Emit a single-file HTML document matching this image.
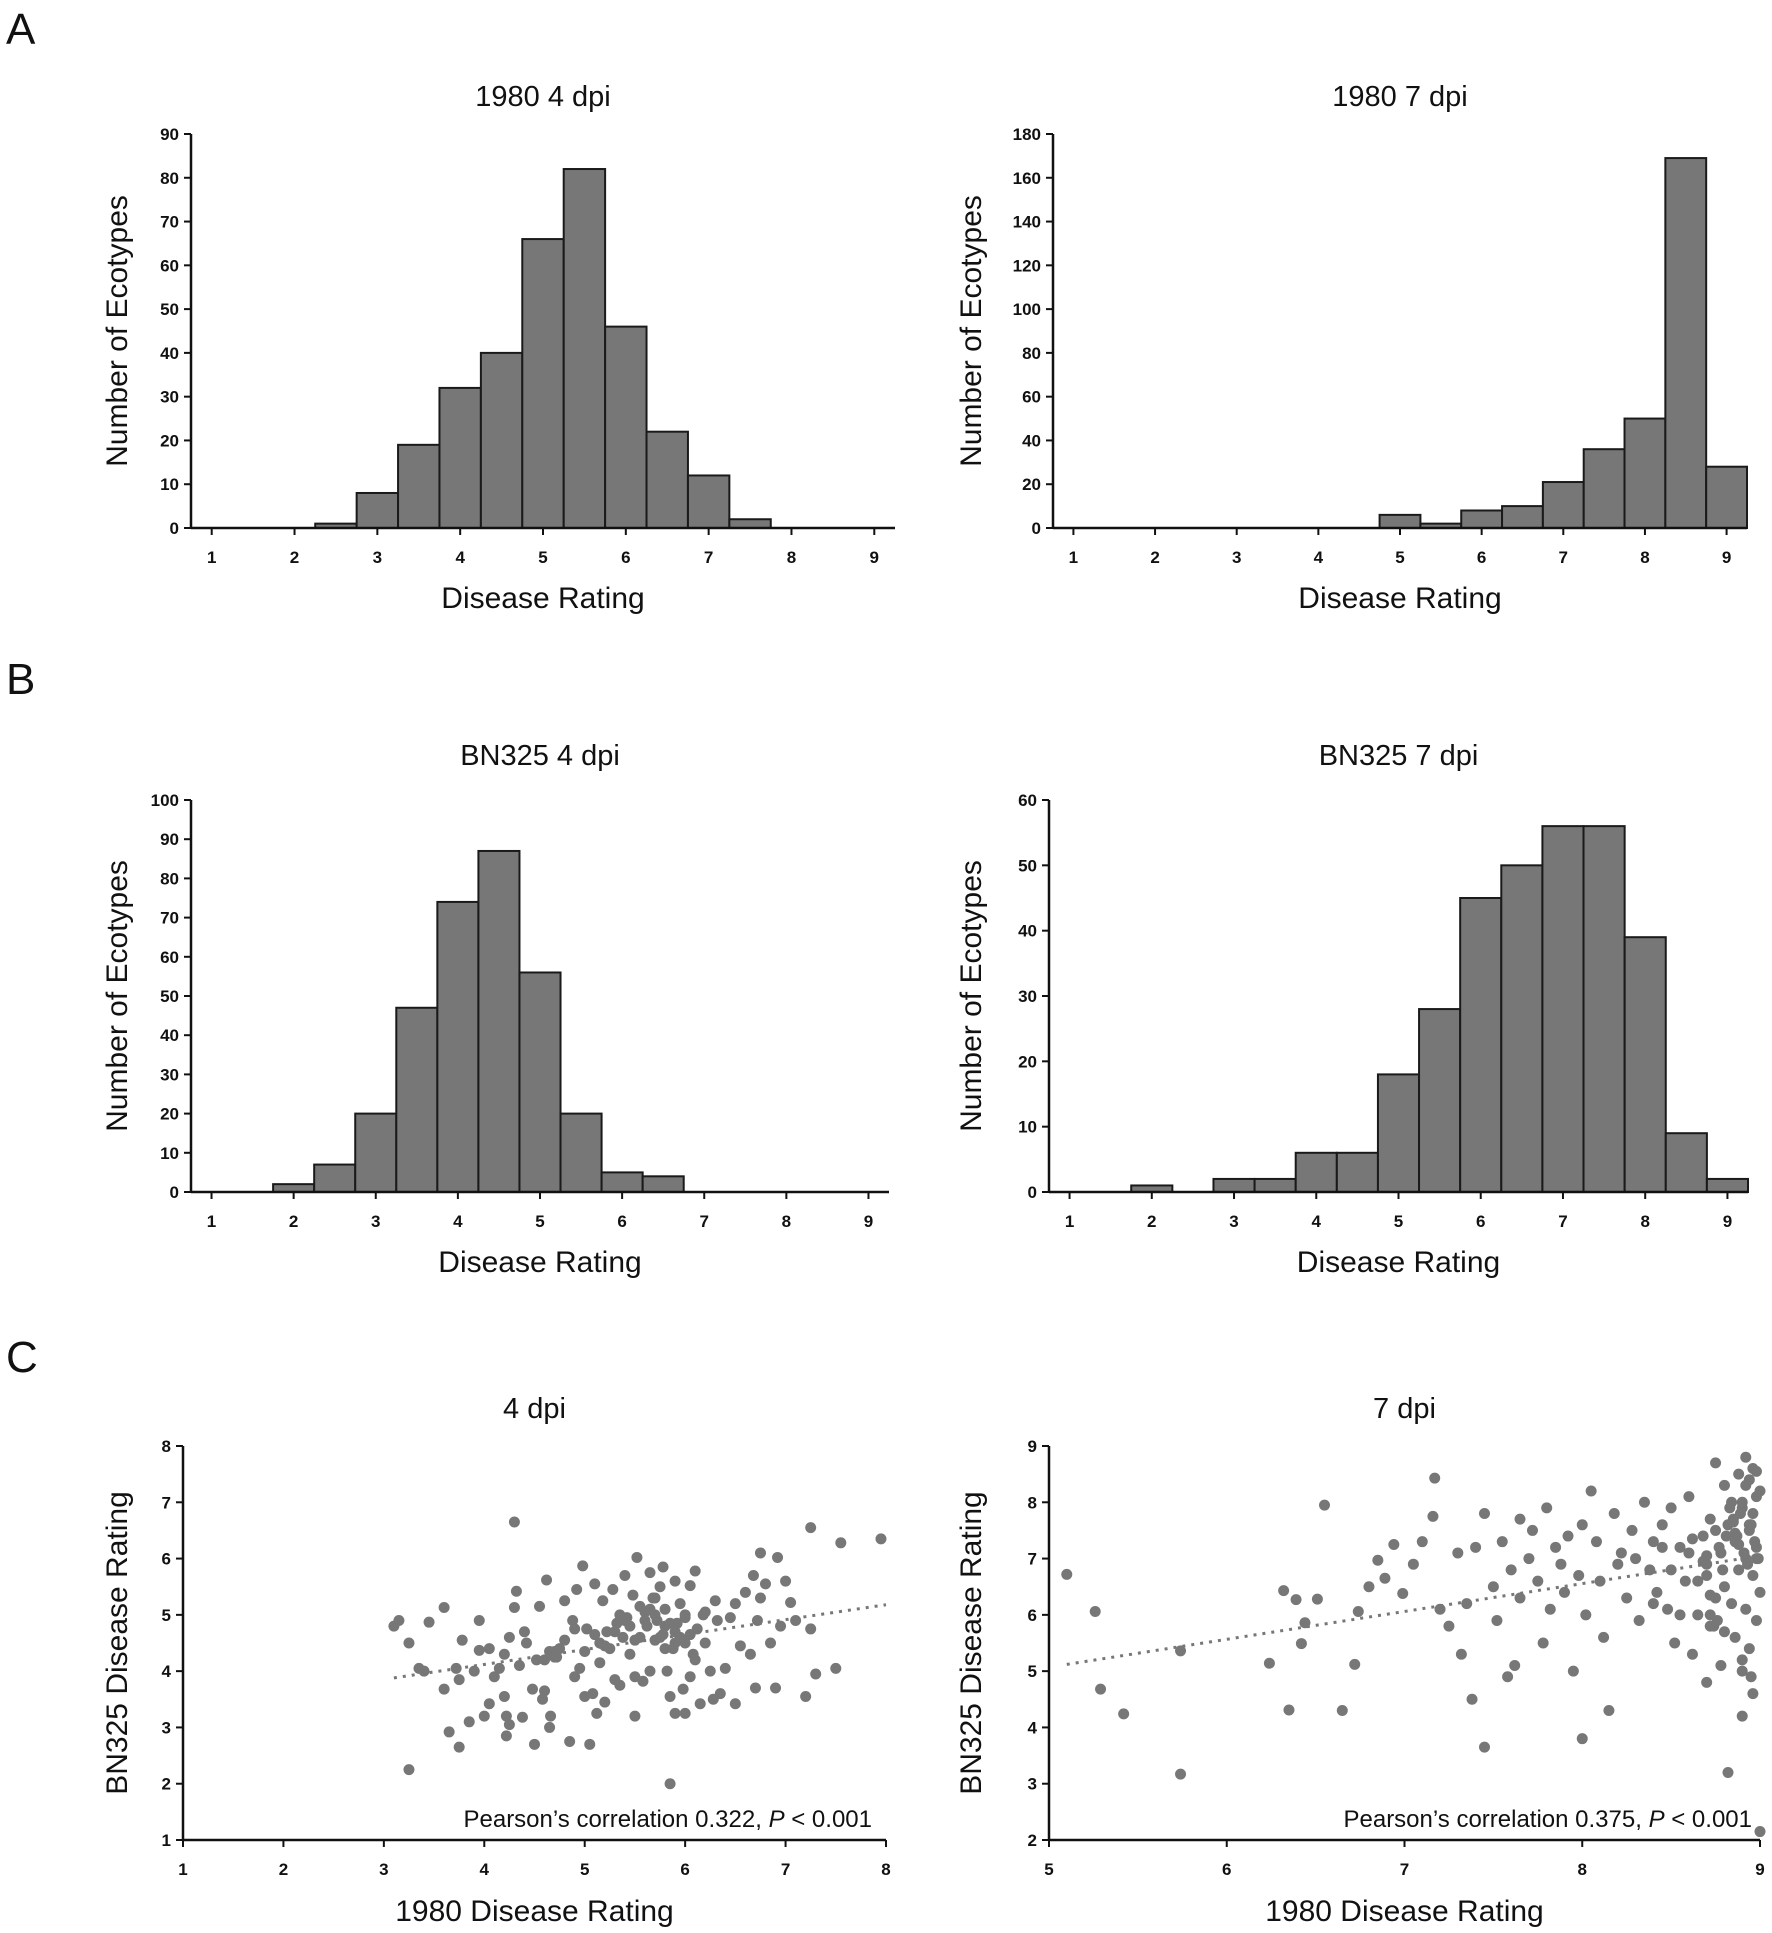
<!DOCTYPE html>
<html><head><meta charset="utf-8">
<style>
html,body{margin:0;padding:0;background:#fff;}
svg{display:block;}
text{font-family:"Liberation Sans",sans-serif;fill:#111;}
.tick{font-size:17px;font-weight:bold;}
.title{font-size:29px;}
.axl{font-size:30px;}
.letter{font-size:44px;}
</style></head>
<body>
<svg id="fig" width="1772" height="1933" viewBox="0 0 1772 1933" xmlns="http://www.w3.org/2000/svg">
<text class="letter" x="6" y="44">A</text>
<text class="letter" x="6" y="694">B</text>
<text class="letter" x="6" y="1372">C</text>
</svg>
<script>
const binCenters=[1,1.5,2,2.5,3,3.5,4,4.5,5,5.5,6,6.5,7,7.5,8,8.5,9];
const a4Counts=[0,0,0,1,8,19,32,40,66,82,46,22,12,2,0,0,0];
const a7Counts=[0,0,0,0,0,0,0,0,6,2,8,10,21,36,50,169,28];
const b4Counts=[0,0,2,7,20,47,74,87,56,20,5,4,0,0,0,0,0];
const b7Counts=[0,0,1,0,2,2,6,6,18,28,45,50,56,56,39,9,2];
const a4Ticks=[0,10,20,30,40,50,60,70,80,90];
const a7Ticks=[0,20,40,60,80,100,120,140,160,180];
const b4Ticks=[0,10,20,30,40,50,60,70,80,90,100];
const b7Ticks=[0,10,20,30,40,50,60];
const ratingTicks=[1,2,3,4,5,6,7,8,9];
const c4X=[3.1,3.15,3.25,3.25,3.45,3.35,3.4,3.6,3.6,3.65,3.75,3.72,3.75,3.78,3.85,3.9,3.95,3.95,4.0,4.05,4.05,4.1,4.15,4.2,4.2,4.22,4.22,4.25,4.25,4.3,4.3,4.32,4.35,4.38,4.4,4.42,4.48,4.5,4.52,4.55,4.58,4.6,4.62,4.65,4.66,4.68,4.7,4.72,4.75,4.8,4.85,4.88,4.9,4.92,4.95,4.98,5.0,5.02,5.05,5.08,5.1,5.12,5.15,5.15,5.18,5.2,5.22,5.25,5.28,5.3,5.32,5.35,5.38,5.4,5.42,5.45,5.48,5.5,5.5,5.52,5.55,5.58,5.6,5.62,5.65,5.65,5.68,5.7,5.72,5.75,5.78,5.78,5.8,5.82,5.85,5.85,5.88,5.9,5.9,5.92,5.95,5.98,6.0,6.0,6.05,6.05,6.08,6.1,6.12,6.15,6.18,6.2,6.25,6.28,6.3,6.32,6.35,6.4,6.45,6.5,6.5,6.55,6.6,6.65,6.68,6.7,6.72,6.75,6.75,6.8,6.85,6.9,6.92,6.95,7.0,7.05,7.1,7.2,7.25,7.25,7.3,7.5,7.55,7.95,5.6,5.7,5.8,5.9,6.0,5.65,5.75,5.85,5.95,6.05,5.3,5.4,5.5,5.2,4.6,4.65,4.7,5.7,5.8,5.9,6.1,6.2,5.35,5.45,5.55,5.0,5.1,4.8,4.9,6.0];
const c4Y=[4.8,4.9,4.5,2.25,4.87,4.05,4.0,5.13,3.68,2.92,2.65,4.05,3.85,4.55,3.1,4.0,4.37,4.9,3.2,3.42,4.4,3.9,4.05,3.55,4.3,3.2,2.85,3.05,4.6,6.65,5.13,5.42,4.1,3.18,4.7,4.5,3.68,2.7,4.2,5.15,3.5,3.65,5.62,3.0,3.2,4.3,4.35,4.25,4.4,5.25,2.75,4.9,3.9,5.45,4.05,5.87,3.55,4.75,2.7,3.6,5.55,3.25,4.5,4.15,5.25,3.45,4.7,4.4,5.45,3.85,4.85,3.75,4.6,5.7,4.95,4.3,5.35,3.9,3.2,6.02,4.6,3.82,5.05,4.8,5.75,4.0,5.3,4.55,4.9,5.5,5.85,4.65,5.1,4.0,3.55,2.0,4.4,5.6,3.25,4.85,4.6,3.68,5.0,3.25,5.52,3.9,4.3,5.78,4.75,3.42,5.0,4.5,4.0,3.5,5.25,4.9,3.6,4.05,4.95,3.42,5.2,4.45,5.4,4.3,5.7,3.7,4.9,6.1,5.3,5.55,4.5,3.7,6.02,4.8,5.6,5.22,4.9,3.55,6.55,4.75,3.95,4.05,6.28,6.35,4.9,5.0,4.8,4.7,4.95,5.1,4.6,4.85,5.2,4.65,4.7,4.9,4.55,4.45,4.2,4.35,4.25,5.3,4.4,4.5,4.2,5.05,5.0,4.8,5.15,4.35,4.65,4.55,4.75,4.5];
const c7X=[5.1,5.26,5.29,5.42,5.74,5.74,6.24,6.32,6.35,6.39,6.42,6.44,6.51,6.55,6.65,6.72,6.74,6.8,6.85,6.89,6.94,6.99,7.16,7.17,7.05,7.1,7.2,7.25,7.3,7.32,7.35,7.38,7.4,7.45,7.45,7.5,7.52,7.55,7.58,7.6,7.62,7.65,7.65,7.7,7.72,7.75,7.78,7.8,7.82,7.85,7.88,7.9,7.92,7.95,7.98,8.0,8.0,8.02,8.05,8.08,8.1,8.12,8.15,8.18,8.2,8.22,8.25,8.28,8.3,8.32,8.35,8.38,8.4,8.42,8.45,8.48,8.5,8.52,8.55,8.58,8.6,8.62,8.65,8.68,8.7,8.7,8.72,8.72,8.75,8.75,8.78,8.78,8.8,8.8,8.82,8.82,8.84,8.84,8.86,8.86,8.88,8.88,8.9,8.9,8.9,8.92,8.92,8.92,8.94,8.94,8.94,8.96,8.96,8.96,8.98,8.98,8.98,9.0,9.0,9.0,8.85,8.87,8.89,8.91,8.93,8.95,8.97,8.99,8.75,8.77,8.79,8.81,8.83,8.6,8.65,8.55,8.5,8.45,8.4,8.7,8.72,8.74,8.76,8.9,8.94,8.96,8.98,8.86,8.88,8.92,8.7,8.72,8.98,8.8,8.9,8.95,8.62,8.68,8.85];
const c7Y=[6.72,6.06,4.68,4.24,5.36,3.17,5.14,6.43,4.31,6.27,5.49,5.86,6.28,7.95,4.3,5.12,6.06,6.5,6.97,6.65,7.25,6.38,7.75,8.43,6.9,7.3,6.1,5.8,7.1,5.3,6.2,4.5,7.2,7.8,3.65,6.5,5.9,7.3,4.9,6.8,5.1,7.7,6.3,7.0,7.5,6.6,5.5,7.9,6.1,7.2,6.9,6.4,7.4,5.0,6.7,3.8,7.6,6.0,8.2,7.3,6.6,5.6,4.3,7.8,6.9,7.1,6.3,7.5,7.0,5.9,8.0,6.8,7.3,6.4,7.6,6.1,7.9,5.5,7.2,6.6,8.1,5.3,6.0,7.4,4.8,6.9,7.7,5.8,8.7,6.3,7.1,5.1,8.3,6.5,7.6,3.2,8.0,6.2,7.3,5.6,8.5,6.8,7.9,5.0,4.2,8.8,7.0,6.1,8.4,7.5,5.4,8.6,6.7,4.6,8.1,7.2,5.9,8.2,6.4,2.15,7.7,7.4,7.8,7.1,6.9,7.6,7.3,7.0,7.5,7.2,6.8,7.4,7.9,7.1,6.6,6.0,6.8,7.2,6.2,6.7,6.0,5.8,5.9,8.0,7.6,7.8,7.0,7.45,7.25,8.3,7.05,6.35,8.55,5.7,5.2,4.9,7.35,6.95,7.65,8.1];
const c4Trend=[[3.1,3.88],[8,5.18]];
const c7Trend=[[5.1,5.12],[9,7.05]];

const NS='http://www.w3.org/2000/svg';
const svg=document.getElementById('fig');
function mk(tag,attrs,parent){const e=document.createElementNS(NS,tag);for(const k in attrs)e.setAttribute(k,attrs[k]);(parent||svg).appendChild(e);return e;}
function linear(d0,d1,r0,r1){return v=>r0+(v-d0)*(r1-r0)/(d1-d0);}

function axesCommon(g,cfg,xs,ys,xTicks,yTicks){
  const xa=mk('line',{x1:cfg.x0,y1:cfg.y0,x2:cfg.x1,y2:cfg.y0,stroke:'#111','stroke-width':2.5},g);
  
  
  const ya=mk('line',{x1:cfg.x0,y1:cfg.y0,x2:cfg.x0,y2:cfg.yT,stroke:'#111','stroke-width':2.5},g);
  
  
  yTicks.forEach(t=>{const y=ys(t);
    mk('line',{x1:cfg.x0-7,y1:y,x2:cfg.x0,y2:y,stroke:'#111','stroke-width':2},g);
    const tx=mk('text',{x:cfg.x0-12,y:y+6,'text-anchor':'end',class:'tick'},g);tx.textContent=t;
    
    });
  xTicks.forEach(t=>{const x=xs(t);
    mk('line',{x1:x,y1:cfg.y0,x2:x,y2:cfg.y0+7,stroke:'#111','stroke-width':2},g);
    const tx=mk('text',{x:x,y:cfg.y0+35,'text-anchor':'middle',class:'tick'},g);tx.textContent=t;
    
    });
  const ti=mk('text',{x:(cfg.x0+cfg.x1)/2,y:cfg.titleY,'text-anchor':'middle',class:'title'},g);ti.textContent=cfg.title;
  
  
  const xl=mk('text',{x:(cfg.x0+cfg.x1)/2,y:cfg.xlY,'text-anchor':'middle',class:'axl'},g);xl.textContent=cfg.xlabel;
  
  
  const yc=(cfg.y0+cfg.yT)/2;
  const yl=mk('text',{x:cfg.ylX,y:yc,'text-anchor':'middle',class:'axl',transform:`rotate(-90 ${cfg.ylX} ${yc})`},g);yl.textContent=cfg.ylabel;
  
  
}

function hist(cfg,counts,yTicks){
  const g=mk('g',{});
  
  
  const xs=linear(0.75,9.25,cfg.x0,cfg.x1);
  const ys=linear(0,yTicks[yTicks.length-1],cfg.y0,cfg.yT);
  counts.forEach((c,i)=>{
    const xa=xs(binCenters[i]-0.25),xb=xs(binCenters[i]+0.25),y=ys(c);
    if(c>0){const r=mk('rect',{x:xa,y:y,width:xb-xa,height:cfg.y0-y,fill:'#777',stroke:'#1a1a1a','stroke-width':2},g);
      
      }
  });
  axesCommon(g,cfg,xs,ys,ratingTicks,yTicks);
}

function scatter(cfg,xv,yv,trend){
  const g=mk('g',{});
  
  
  const xs=linear(cfg.xTicks[0],cfg.xTicks[cfg.xTicks.length-1],cfg.x0,cfg.x1);
  const ys=linear(cfg.yTicks[0],cfg.yTicks[cfg.yTicks.length-1],cfg.y0,cfg.yT);
  const n=Math.min(xv.length,yv.length);
  for(let i=0;i<n;i++){const c=mk('circle',{cx:xs(xv[i]),cy:ys(yv[i]),r:5.5,fill:'#777'},g);
    
    }
  const tl=mk('line',{x1:xs(trend[0][0]),y1:ys(trend[0][1]),x2:xs(trend[1][0]),y2:ys(trend[1][1]),stroke:'#777','stroke-width':3,'stroke-dasharray':'3 6'},g);
  
  
  axesCommon(g,cfg,xs,ys,cfg.xTicks,cfg.yTicks);
  const p=mk('text',{x:cfg.pX,y:cfg.pY,'text-anchor':'end',style:'font-size:24px'},g);
  p.innerHTML=cfg.pText+', <tspan font-style="italic">P</tspan> &lt; 0.001';
  
  
}

hist({name:'hist-1980-4dpi',x0:191,x1:895,y0:528,yT:134,title:'1980 4 dpi',titleY:106,xlabel:'Disease Rating',xlY:608,ylabel:'Number of Ecotypes',ylX:127},a4Counts,a4Ticks);
hist({name:'hist-1980-7dpi',x0:1053,x1:1747,y0:528,yT:134,title:'1980 7 dpi',titleY:106,xlabel:'Disease Rating',xlY:608,ylabel:'Number of Ecotypes',ylX:981},a7Counts,a7Ticks);
hist({name:'hist-bn325-4dpi',x0:191,x1:889,y0:1192,yT:800,title:'BN325 4 dpi',titleY:765,xlabel:'Disease Rating',xlY:1272,ylabel:'Number of Ecotypes',ylX:127},b4Counts,b4Ticks);
hist({name:'hist-bn325-7dpi',x0:1049,x1:1748,y0:1192,yT:800,title:'BN325 7 dpi',titleY:765,xlabel:'Disease Rating',xlY:1272,ylabel:'Number of Ecotypes',ylX:981},b7Counts,b7Ticks);
scatter({name:'scatter-4dpi',x0:183,x1:886,y0:1840,yT:1446,xTicks:[1,2,3,4,5,6,7,8],yTicks:[1,2,3,4,5,6,7,8],title:'4 dpi',titleY:1418,xlabel:'1980 Disease Rating',xlY:1921,ylabel:'BN325 Disease Rating',ylX:127,pX:872,pY:1827,pText:'Pearson\u2019s correlation 0.322'},c4X,c4Y,c4Trend);
scatter({name:'scatter-7dpi',x0:1049,x1:1760,y0:1840,yT:1446,xTicks:[5,6,7,8,9],yTicks:[2,3,4,5,6,7,8,9],title:'7 dpi',titleY:1418,xlabel:'1980 Disease Rating',xlY:1921,ylabel:'BN325 Disease Rating',ylX:981,pX:1752,pY:1827,pText:'Pearson\u2019s correlation 0.375'},c7X,c7Y,c7Trend);
</script>
</body></html>
